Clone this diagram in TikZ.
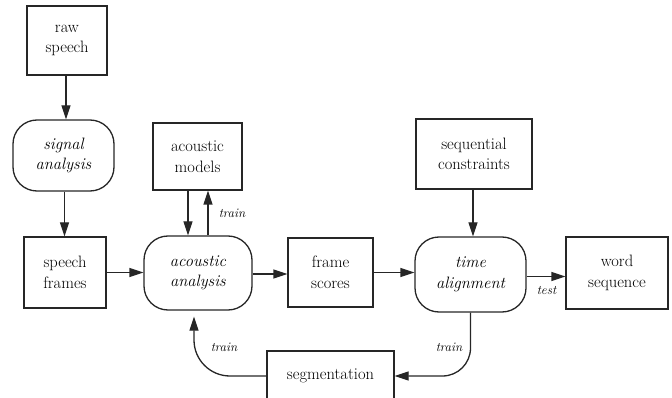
\documentclass[tikz,border=0pt]{standalone}
\usetikzlibrary{arrows.meta}
\tikzset{
  base/.style={draw=black!85, line width=1.3pt, inner sep=0pt, align=center,
    font=\rmfamily\fontsize{16.5}{20.5}\selectfont},
  box/.style={base, rectangle},
  proc/.style={base, rectangle, rounded corners=24pt, font=\rmfamily\fontsize{16.5}{20.5}\selectfont\itshape},
  arr/.style={draw=black!85, line width=1.3pt, -{Triangle[length=14pt,width=9pt]}},
  lab/.style={font=\rmfamily\fontsize{13}{15}\selectfont\itshape, inner sep=0pt}
}
\begin{document}
\begin{tikzpicture}[x=1pt,y=-1pt]
\useasboundingbox (0,0) rectangle (672,398);
\clip (0,0) rectangle (672,398);
\node[box, minimum width=80pt, minimum height=69pt] (raw) at (67,40.5) {raw\\speech};
\node[proc, minimum width=101pt, minimum height=71pt] (sig) at (63.5,155.5) {signal\\analysis};
\node[box, minimum width=89pt, minimum height=67pt] (am) at (197.5,156.5) {acoustic\\models};
\node[box, minimum width=82pt, minimum height=71pt] (sf) at (65,272.5) {speech\\frames};
\node[proc, minimum width=108pt, minimum height=74pt] (aa) at (198,273) {acoustic\\analysis};
\node[box, minimum width=85pt, minimum height=69pt] (fs) at (330.5,272.5) {frame\\scores};
\node[box, minimum width=116pt, minimum height=70pt] (sc) at (474,154) {sequential\\constraints};
\node[proc, minimum width=111pt, minimum height=75pt] (ta) at (470.5,274.5) {time\\alignment};
\node[box, minimum width=102pt, minimum height=72pt] (ws) at (617,273) {word\\sequence};
\node[box, minimum width=127pt, minimum height=50pt] (seg) at (330.5,376) {segmentation};

\draw[arr] ([xshift=-1pt]raw.south) -- ([xshift=-1pt]raw.south |- sig.north);
\draw[arr] ([xshift=1pt]sig.south) -- ([xshift=1pt]sig.south |- sf.north);
\draw[arr] ([xshift=-9.5pt]am.south) -- ([xshift=-9.5pt]am.south |- aa.north);
\draw[arr] ([xshift=10pt]aa.north) -- ([xshift=10pt]aa.north |- am.south);
\draw[arr] (sf.east) -- (sf.east -| aa.west);
\draw[arr] ([yshift=-1pt]aa.east) -- ([yshift=-1pt]aa.east -| fs.west);
\draw[arr] (fs.east) -- (fs.east -| ta.west);
\draw[arr] ([yshift=-2pt]ta.east) -- ([yshift=-2pt]ta.east -| ws.west);
\draw[arr] ([xshift=-1pt]sc.south) -- ([xshift=-1pt]sc.south |- ta.north);
\draw[arr, rounded corners=28pt] (ta.south) |- (seg.east);
\draw[arr, rounded corners=36pt, shorten >=6pt] (seg.west) -| ([xshift=-4pt]aa.south);

\node[lab] (l1) at (232,213) {train};
\node[lab] (l2) at (546.5,291) {test};
\node[lab] (l3) at (449,347) {train};
\node[lab] (l4) at (224,347) {train};
\end{tikzpicture}
\end{document}
